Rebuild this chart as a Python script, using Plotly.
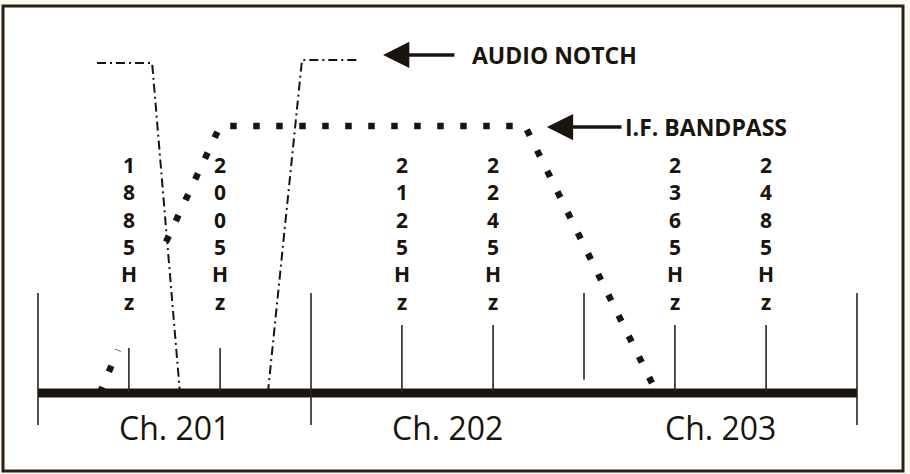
import plotly.graph_objects as go

# ---------------- data (x in channel units, y in relative response) ----------------
channel_edges = [0, 1, 2, 3]
channel_centers = [0.5, 1.5, 2.5]
channel_names = ["Ch. 201", "Ch. 202", "Ch. 203"]

freq_pos = [0.333, 0.667, 1.333, 1.667, 2.333, 2.667]
freq_labels = ["1885", "2005", "2125", "2245", "2365", "2485"]

# I.F. bandpass response (None = gap in the printed curve)
if_x = [0.227, 0.293, None, 0.469, 0.667, 1.784, 2.267]
if_y = [0.0, 0.161, None, 0.566, 1.0, 1.0, 0.0]

# Audio notch response (two skirts)
notch_left_x = [0.216, 0.418, 0.520]
notch_left_y = [1.236, 1.236, 0.0]
notch_right_x = [0.842, 0.967, 1.168]
notch_right_y = [0.0, 1.247, 1.247]

# ---------------- styling constants ----------------
INK = "#1a140e"
FONT = "Open Sans"
big_tick_top = 0.375
big_tick_bottoms = [-0.12, -0.12, 0.05, -0.12]
small_tick_tops = [0.169, 0.169, 0.255, 0.255, 0.255, 0.255]

fig = go.Figure()

# baseline
fig.add_trace(go.Scatter(x=[channel_edges[0], channel_edges[-1]], y=[0, 0], mode="lines",
                         line=dict(color=INK, width=9), hoverinfo="skip"))

# channel boundary ticks
bx, by = [], []
for x, b in zip(channel_edges, big_tick_bottoms):
    bx += [x, x, None]
    by += [big_tick_top, b, None]
fig.add_trace(go.Scatter(x=bx, y=by, mode="lines", line=dict(color="#2a2420", width=1.6),
                         hoverinfo="skip"))

# frequency ticks
sx, sy = [], []
for x, t in zip(freq_pos, small_tick_tops):
    sx += [x, x, None]
    sy += [t, 0, None]
fig.add_trace(go.Scatter(x=sx, y=sy, mode="lines", line=dict(color="#2a2420", width=1.6),
                         hoverinfo="skip"))

# audio notch (dash-dot)
for nx, ny in [(notch_left_x, notch_left_y), (notch_right_x, notch_right_y)]:
    fig.add_trace(go.Scatter(x=nx, y=ny, mode="lines",
                             line=dict(color=INK, width=2, dash="9px,4px,2px,4px"),
                             hoverinfo="skip"))

# I.F. bandpass (heavy square dots)
fig.add_trace(go.Scatter(x=if_x, y=if_y, mode="lines", connectgaps=False,
                         line=dict(color=INK, width=6.5, dash="6.5px,16.5px"),
                         hoverinfo="skip"))

annotations = []
# vertical frequency labels
for x, lab in zip(freq_pos, freq_labels):
    txt = "<b>" + "<br>".join(list(lab + "Hz")) + "</b>"
    annotations.append(dict(x=x, y=0.596, xref="x", yref="y", text=txt, showarrow=False,
                            font=dict(family=FONT, size=21, color=INK), align="center",
                            xanchor="center", yanchor="middle"))
# channel names
for x, name in zip(channel_centers, channel_names):
    annotations.append(dict(x=x, y=-0.131, xref="x", yref="y", text=name, showarrow=False,
                            font=dict(family=FONT, size=32, color=INK),
                            xanchor="center", yanchor="middle"))
# arrows + labels
arrow_specs = [
    (1.264, 1.531, 1.266, "AUDIO NOTCH", 1.582),
    (1.864, 2.143, 0.996, "I.F. BANDPASS", 2.143),
]
for tip, tail, yv, label, tx in arrow_specs:
    annotations.append(dict(x=tip, y=yv, ax=tail, ay=yv, xref="x", yref="y", axref="x", ayref="y",
                            text="", showarrow=True, arrowhead=2, arrowsize=1.5, arrowwidth=3.5,
                            arrowcolor=INK, standoff=0, startstandoff=0))
    annotations.append(dict(x=tx, y=yv, xref="x", yref="y", text="<b>%s</b>" % label,
                            showarrow=False, font=dict(family=FONT, size=23, color=INK),
                            xanchor="left", yanchor="middle"))

fig.update_layout(
    width=910, height=474, autosize=False,
    margin=dict(l=0, r=0, t=0, b=0),
    paper_bgcolor="#fcfbf0", plot_bgcolor="rgba(0,0,0,0)",
    showlegend=False,
    xaxis=dict(visible=False, range=[-0.13919, 3.19414], fixedrange=True),
    yaxis=dict(visible=False, range=[-0.30337, 1.47191], fixedrange=True),
    annotations=annotations,
    shapes=[dict(type="rect", xref="paper", yref="paper", x0=3 / 910, x1=903 / 910,
                 y0=1 - 471 / 474, y1=1 - 6 / 474, line=dict(color="#2b2016", width=3),
                 fillcolor="white", layer="below")],
)

fig.write_html("out.html", config={"displayModeBar": False},
               post_script="document.body.style.margin='0';document.body.style.overflow='hidden';")
